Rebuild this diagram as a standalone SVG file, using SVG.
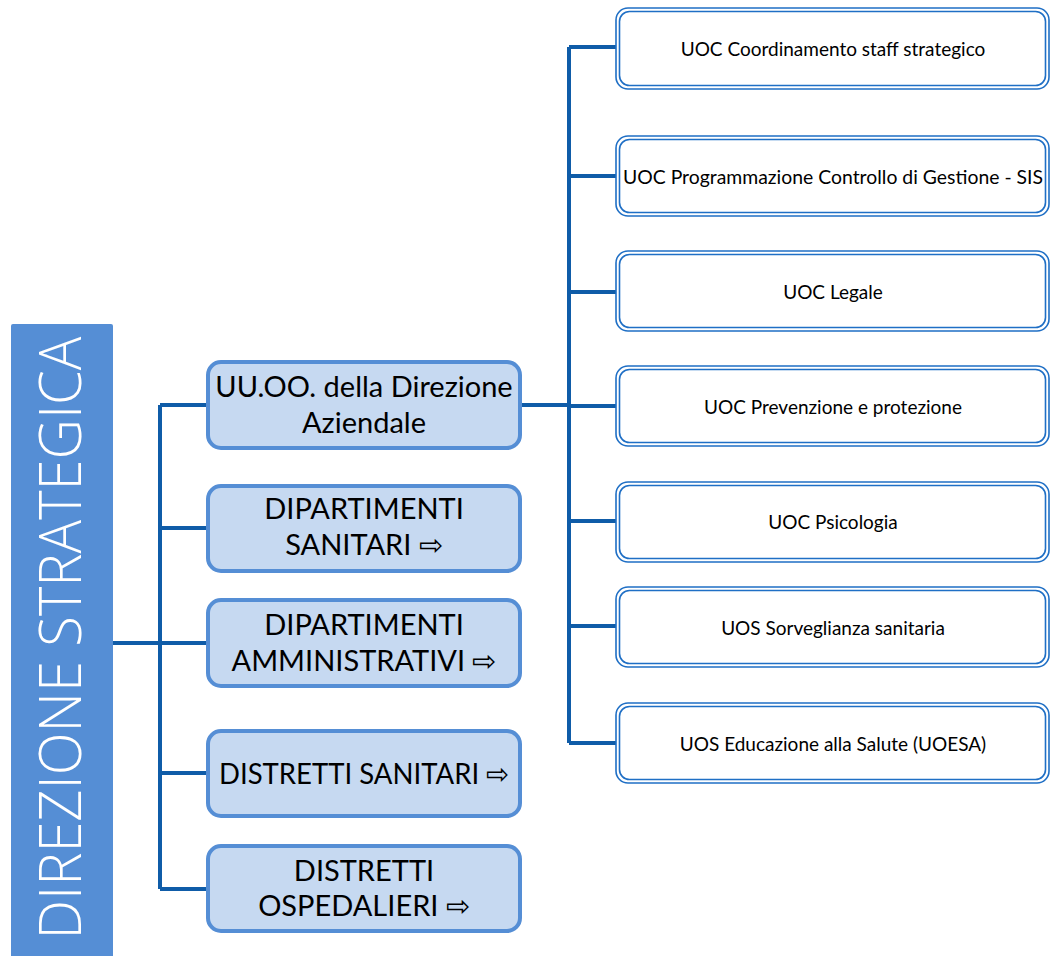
<svg xmlns="http://www.w3.org/2000/svg" width="1051" height="956" viewBox="0 0 1051 956">
<style>
.conn{fill:none;stroke:#0F5CA8;stroke-width:4;stroke-linecap:butt;stroke-linejoin:miter}
.mbox{fill:#C6D9F1;stroke:#558ED5;stroke-width:4}
.mt{font-family:Lato,"Open Sans",sans-serif;font-size:29px;fill:#000;text-anchor:middle}
.rout{fill:#fff;stroke:#1F6FC5;stroke-width:1.6}
.rin{fill:none;stroke:#1F6FC5;stroke-width:1.6}
.rt{font-family:Lato,"Open Sans",sans-serif;font-size:19px;fill:#000;text-anchor:middle;dominant-baseline:central}
</style>
<g id="connectors">
<path class="conn" d="M113 643 H160 M160 405 V889 M160 405 H207 M160 528 H207 M160 643 H207 M160 773 H207 M160 889 H207"/>
<path class="conn" d="M521 405 H569 M569 47 V743 M569 47 H616 M569 176 H616 M569 292 H616 M569 406 H616 M569 521 H616 M569 626 H616 M569 743 H616"/>
</g>
<g id="direzione">
<rect x="11" y="324" width="102" height="640" rx="2" fill="#558ED5"/>
<text transform="translate(81 638) rotate(-90)" font-family="'Open Sans',Lato,sans-serif" font-weight="300" font-size="58" fill="#fff" text-anchor="middle" textLength="603" lengthAdjust="spacingAndGlyphs">DIREZIONE STRATEGICA</text>
</g>
<g id="uuoo">
<rect class="mbox" x="208" y="362" width="312" height="86" rx="13"/>
<text class="mt" x="364" y="397">UU.OO. della Direzione</text>
<text class="mt" x="364" y="433">Aziendale</text>
</g>
<g id="dip-sanitari">
<rect class="mbox" x="208" y="486" width="312" height="85" rx="13"/>
<text class="mt" x="364" y="519">DIPARTIMENTI</text>
<text class="mt" x="364" y="555">SANITARI ⇨</text>
</g>
<g id="dip-amministrativi">
<rect class="mbox" x="208" y="600" width="312" height="86" rx="13"/>
<text class="mt" x="364" y="635">DIPARTIMENTI</text>
<text class="mt" x="364" y="671">AMMINISTRATIVI ⇨</text>
</g>
<g id="distretti-sanitari">
<rect class="mbox" x="208" y="731" width="312" height="85" rx="13"/>
<text class="mt" x="364" y="784" textLength="290" lengthAdjust="spacingAndGlyphs">DISTRETTI SANITARI ⇨</text>
</g>
<g id="distretti-ospedalieri">
<rect class="mbox" x="208" y="846" width="312" height="85" rx="13"/>
<text class="mt" x="364" y="881">DISTRETTI</text>
<text class="mt" x="364" y="916">OSPEDALIERI ⇨</text>
</g>
<g id="uoc-coordinamento">
<rect class="rout" x="616" y="8" width="433" height="81" rx="12"/>
<rect class="rin" x="619.5" y="11.5" width="426" height="74" rx="10"/>
<text class="rt" x="833" y="48">UOC Coordinamento staff strategico</text>
</g>
<g id="uoc-programmazione">
<rect class="rout" x="616" y="136" width="433" height="80" rx="12"/>
<rect class="rin" x="619.5" y="139.5" width="426" height="73" rx="10"/>
<text class="rt" x="833" y="176" textLength="420" lengthAdjust="spacingAndGlyphs">UOC Programmazione Controllo di Gestione - SIS</text>
</g>
<g id="uoc-legale">
<rect class="rout" x="616" y="251" width="433" height="80" rx="12"/>
<rect class="rin" x="619.5" y="254.5" width="426" height="73" rx="10"/>
<text class="rt" x="833" y="291">UOC Legale</text>
</g>
<g id="uoc-prevenzione">
<rect class="rout" x="616" y="366" width="433" height="80" rx="12"/>
<rect class="rin" x="619.5" y="369.5" width="426" height="73" rx="10"/>
<text class="rt" x="833" y="406">UOC Prevenzione e protezione</text>
</g>
<g id="uoc-psicologia">
<rect class="rout" x="616" y="482" width="433" height="80" rx="12"/>
<rect class="rin" x="619.5" y="485.5" width="426" height="73" rx="10"/>
<text class="rt" x="833" y="521">UOC Psicologia</text>
</g>
<g id="uos-sorveglianza">
<rect class="rout" x="616" y="587" width="433" height="80" rx="12"/>
<rect class="rin" x="619.5" y="590.5" width="426" height="73" rx="10"/>
<text class="rt" x="833" y="627">UOS Sorveglianza sanitaria</text>
</g>
<g id="uos-educazione">
<rect class="rout" x="616" y="703" width="433" height="80" rx="12"/>
<rect class="rin" x="619.5" y="706.5" width="426" height="73" rx="10"/>
<text class="rt" x="833" y="743">UOS Educazione alla Salute (UOESA)</text>
</g>
</svg>
